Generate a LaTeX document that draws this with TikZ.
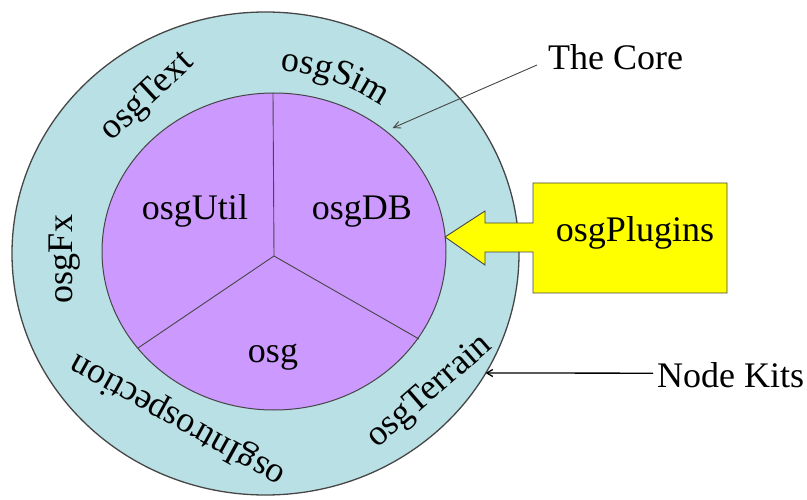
\documentclass[tikz,border=0pt]{standalone}
\usepackage{fontspec}
\setmainfont{Liberation Serif}
\usetikzlibrary{decorations.text,arrows.meta}

\definecolor{ringfill}{RGB}{185,224,228}
\definecolor{corefill}{RGB}{204,153,255}
\definecolor{plugfill}{RGB}{255,255,0}
\definecolor{edgegray}{RGB}{70,70,70}

\newcommand\lblfont{\fontsize{36}{40}\selectfont}
% text set along an elliptical arc round the ring centre
% #1 x radius, #2 y radius, #3 start angle, #4 end angle, #5 text
\newcommand\ringtext[5]{%
  \path[decorate,decoration={text along path,text={|\lblfont|#5},text align=center}]
    ({265.5+#1*cos(#3)},{253.5+#2*sin(#3)})
    arc[start angle=#3,end angle=#4,x radius=#1,y radius=#2];}

\begin{document}
\begin{tikzpicture}[x=1pt,y=-1pt,
  label/.style={font=\lblfont,inner sep=0pt},
  divider/.style={draw=edgegray,line width=0.9pt},
  thinpointer/.style={draw=edgegray,line width=0.9pt,-{Straight Barb[length=7pt,width=7pt]}},
  kitpointer/.style={draw=black,line width=1.3pt,-{Straight Barb[length=6pt,width=7pt]}}]
\useasboundingbox (0,0) rectangle (807,500);

% node kits ring
\filldraw[fill=ringfill,draw=edgegray,line width=1.3pt]
  (265.5,253.5) ellipse[x radius=253.5,y radius=241.5];

% the core
\filldraw[fill=corefill,draw=edgegray,line width=1pt]
  (274,251.5) ellipse[x radius=172,y radius=158.5];
\coordinate (hub) at (274,256);
\coordinate (cutTop) at (273,93);
\coordinate (cutLeft) at (138,348);
\coordinate (cutRight) at (419,339);
\draw[divider] (hub) -- (cutTop);
\draw[divider] (hub) -- (cutLeft);
\draw[divider] (hub) -- (cutRight);

\node[label,anchor=base] (util) at (195,220) {osgUtil};
\node[label,anchor=base] (db) at (362,220) {osgDB};
\node[label,anchor=base] (osg) at (273,362) {osg};

% node kit names round the ring
\node[label,anchor=base,rotate=90] (fx) at (72,259) {osgFx};
\node[label,rotate=43] (text) at (148,97) {osgText};
\ringtext{195.5}{183.5}{246}{336}{osgSim}
\node[label,anchor=base,rotate=151] (intro) at (182,412) {osgIntrospection};
\node[label,rotate=41] (terrain) at (430,392) {osgTerrain};

% plugins box with its arrow into the core
\filldraw[fill=plugfill,draw=edgegray,line width=0.9pt]
  (533,183) -- (727,183) -- (727,293) -- (533,293) -- (533,252) -- (485,252)
  -- (485,265) -- (445,237) -- (485,211) -- (485,223) -- (533,223) -- cycle;
\node[label,anchor=base] (plugins) at (635,242) {osgPlugins};

% callouts
\node[label,anchor=base west] (corecall) at (548,70) {The Core};
\coordinate (coreTip) at (392.7,128);
\draw[thinpointer] ([xshift=-11pt,yshift=-7.3pt]corecall.west) -- (coreTip);

\node[label,anchor=base west] (kitscall) at (657,387) {Node Kits};
\coordinate (kitsTip) at (485.5,373);
\draw[kitpointer] ([xshift=-4pt,yshift=1.5pt]kitscall.west) -- (kitsTip);
\end{tikzpicture}
\end{document}
